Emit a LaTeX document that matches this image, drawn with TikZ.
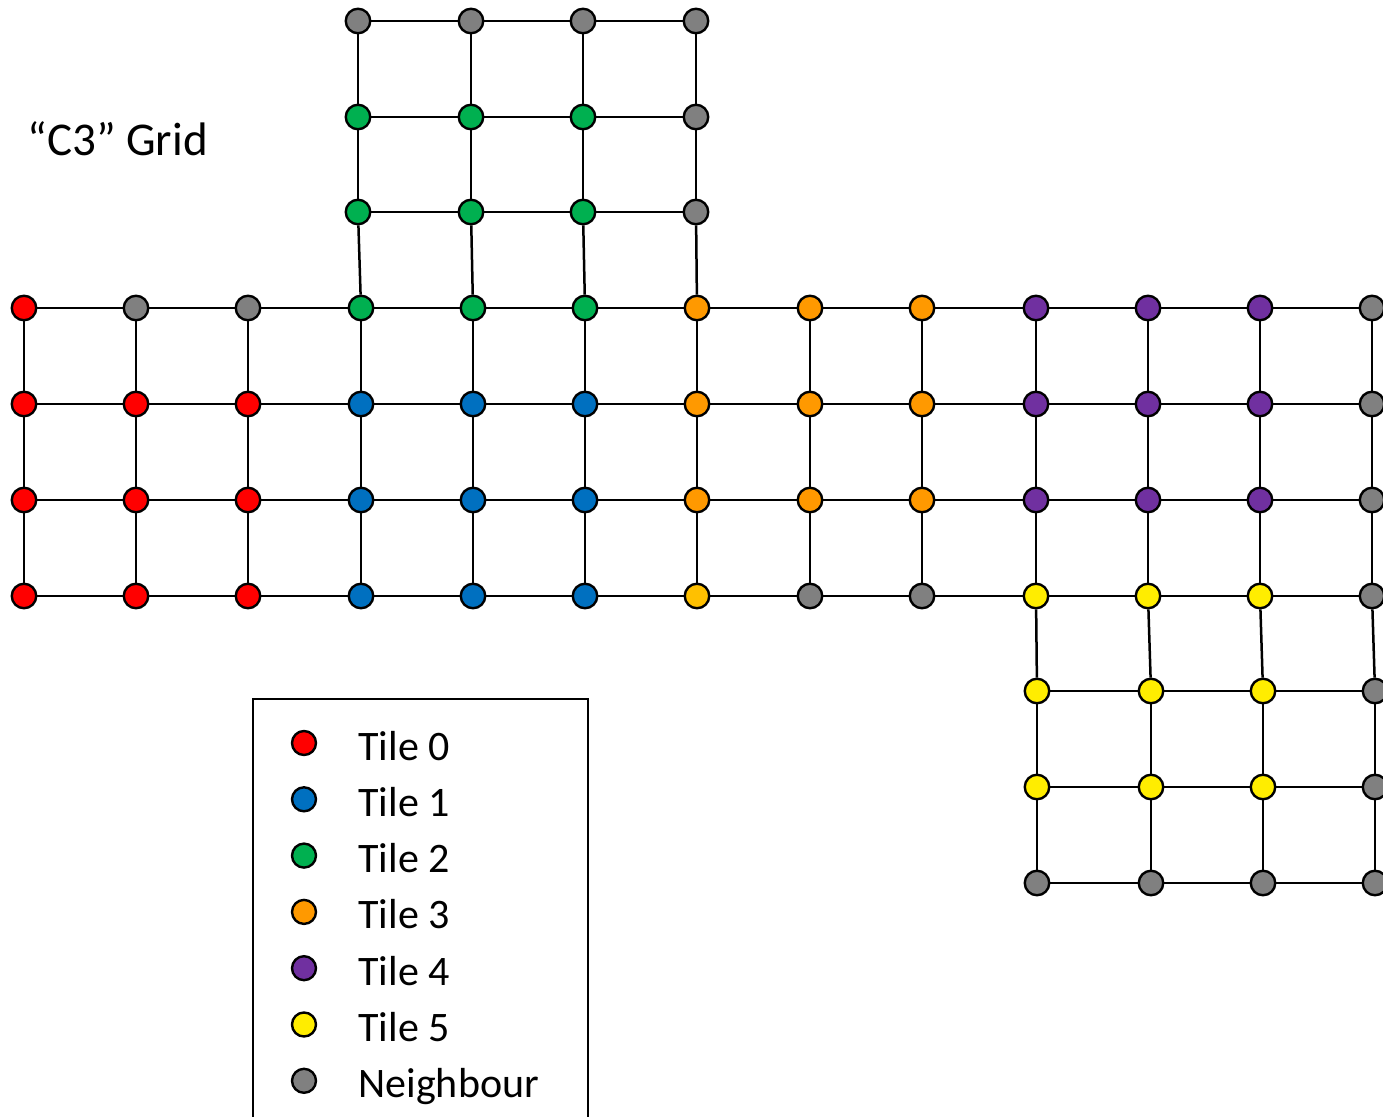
\documentclass[tikz,border=0pt]{standalone}
\usepackage{fontspec}
\setmainfont{Carlito}
\definecolor{cR}{HTML}{FF0000}
\definecolor{cB}{HTML}{0070C0}
\definecolor{cG}{HTML}{00B050}
\definecolor{cO}{HTML}{FF9900}
\definecolor{cA}{HTML}{FFC000}
\definecolor{cP}{HTML}{7030A0}
\definecolor{cY}{HTML}{FFED00}
\definecolor{cN}{HTML}{808080}
\begin{document}
\begin{tikzpicture}[x=1pt,y=-1pt,
  vtx/.style={circle,draw=black,line width=2.4pt,minimum size=24.5pt,inner sep=0pt,fill=#1},
  edge/.style={line width=2.5pt,black},
  lbl/.style={anchor=base west,font=\fontsize{42}{50}\selectfont}]
\useasboundingbox (0,0) rectangle (1383,1116);
\clip (0,0) rectangle (1383,1116);
% main grid
\foreach \x/\col [count=\c from 0] in {24/cR,136/cN,248/cN,361/cG,473/cG,585/cG,697/cO,810/cO,922/cO,1036/cP,1148/cP,1260/cP,1372/cN}
  \node[vtx=\col] (m0-\c) at (\x,308) {};
\foreach \x/\col [count=\c from 0] in {24/cR,136/cR,248/cR,361/cB,473/cB,585/cB,697/cO,810/cO,922/cO,1036/cP,1148/cP,1260/cP,1372/cN}
  \node[vtx=\col] (m1-\c) at (\x,404) {};
\foreach \x/\col [count=\c from 0] in {24/cR,136/cR,248/cR,361/cB,473/cB,585/cB,697/cO,810/cO,922/cO,1036/cP,1148/cP,1260/cP,1372/cN}
  \node[vtx=\col] (m2-\c) at (\x,500) {};
\foreach \x/\col [count=\c from 0] in {24/cR,136/cR,248/cR,361/cB,473/cB,585/cB,697/cA,810/cN,922/cN,1036/cY,1148/cY,1260/cY,1372/cN}
  \node[vtx=\col] (m3-\c) at (\x,596) {};
% top grid
\foreach \x/\col [count=\c from 0] in {358/cN,471/cN,583/cN,696/cN}
  \node[vtx=\col] (t0-\c) at (\x,21) {};
\foreach \x/\col [count=\c from 0] in {358/cG,471/cG,583/cG,696/cN}
  \node[vtx=\col] (t1-\c) at (\x,117) {};
\foreach \x/\col [count=\c from 0] in {358/cG,471/cG,583/cG,696/cN}
  \node[vtx=\col] (t2-\c) at (\x,212) {};
% bottom grid
\foreach \x/\col [count=\c from 0] in {1037/cY,1151/cY,1263/cY,1375/cN}
  \node[vtx=\col] (b1-\c) at (\x,691) {};
\foreach \x/\col [count=\c from 0] in {1037/cY,1151/cY,1263/cY,1375/cN}
  \node[vtx=\col] (b2-\c) at (\x,787) {};
\foreach \x/\col [count=\c from 0] in {1037/cN,1151/cN,1263/cN,1375/cN}
  \node[vtx=\col] (b3-\c) at (\x,883) {};
% edges main grid
\foreach \r in {0,1,2,3}
  \foreach \c/\nc in {0/1,1/2,2/3,3/4,4/5,5/6,6/7,7/8,8/9,9/10,10/11,11/12}
    \draw[edge] (m\r-\c) -- (m\r-\nc);
\foreach \r/\nr in {0/1,1/2,2/3}
  \foreach \c in {0,...,12}
    \draw[edge] (m\r-\c) -- (m\nr-\c);
% edges top grid
\foreach \r in {0,1,2}
  \foreach \c/\nc in {0/1,1/2,2/3}
    \draw[edge] (t\r-\c) -- (t\r-\nc);
\foreach \r/\nr in {0/1,1/2}
  \foreach \c in {0,...,3}
    \draw[edge] (t\r-\c) -- (t\nr-\c);
\foreach \c/\mc in {0/3,1/4,2/5,3/6}
  \draw[edge] (t2-\c) -- (m0-\mc);
% edges bottom grid
\foreach \r in {1,2,3}
  \foreach \c/\nc in {0/1,1/2,2/3}
    \draw[edge] (b\r-\c) -- (b\r-\nc);
\foreach \r/\nr in {1/2,2/3}
  \foreach \c in {0,...,3}
    \draw[edge] (b\r-\c) -- (b\nr-\c);
\foreach \c/\mc in {0/9,1/10,2/11,3/12}
  \draw[edge] (m3-\mc) -- (b1-\c);
% title
\node[anchor=base west,font=\fontsize{47}{56}\selectfont] (title) at (24,155) {“C3” Grid};
% legend
\node[draw=black,line width=2.2pt,anchor=north west,minimum width=335pt,minimum height=440pt,inner sep=0pt] (legend) at (252,698) {};
\foreach \col/\txt [count=\i from 0] in {cR/Tile 0,cB/Tile 1,cG/Tile 2,cO/Tile 3,cP/Tile 4,cY/Tile 5,cN/Neighbour}{
  \node[vtx=\col,minimum size=24pt] (lk\i) at (304,{743+56.3*\i}) {};
  \node[lbl] (lt\i) at (355,{760+56.3*\i}) {\txt};
}
\end{tikzpicture}
\end{document}
